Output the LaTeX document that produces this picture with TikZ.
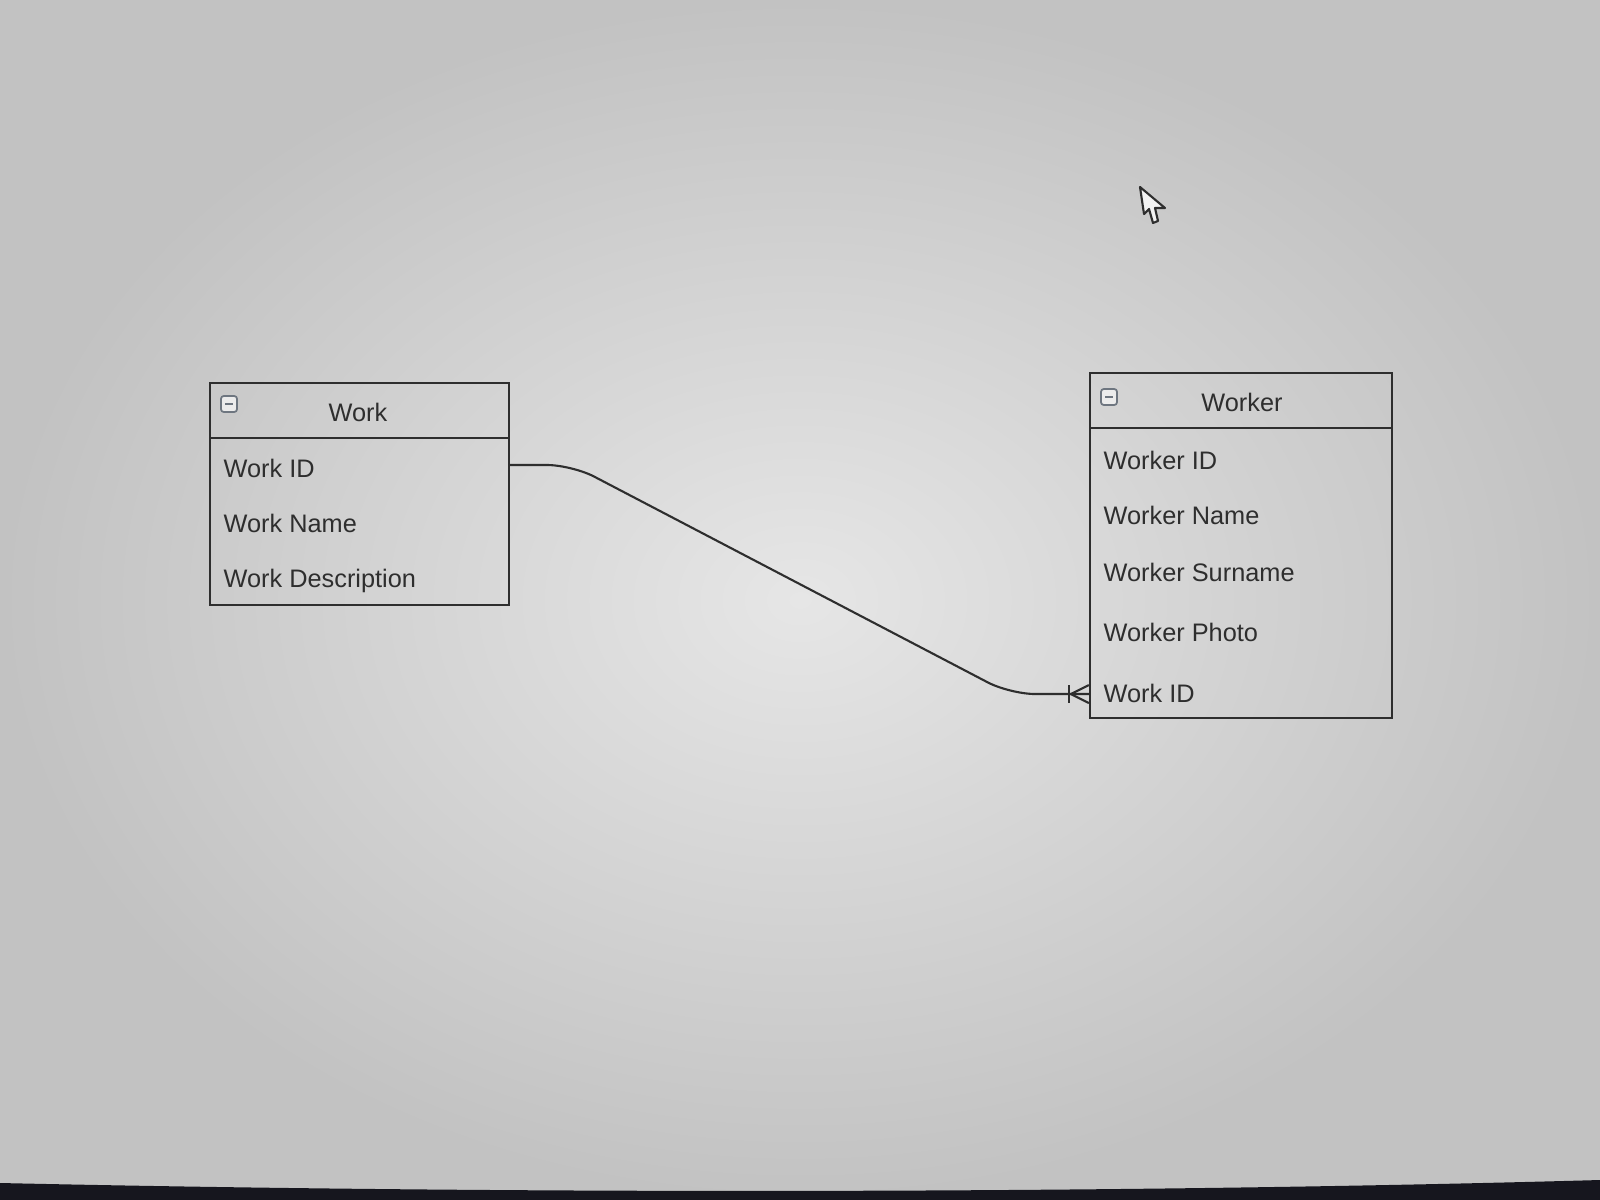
\documentclass[tikz,border=0pt]{standalone}
\usepackage{fontspec}
\setmainfont{Liberation Sans}
\usetikzlibrary{calc}
\definecolor{ink}{HTML}{2E2E2E}
\definecolor{bgin}{HTML}{E6E6E6}
\definecolor{bgout}{HTML}{C2C2C2}
\definecolor{iconc}{HTML}{6E7680}
\definecolor{screenedge}{HTML}{16161E}
\begin{document}
\begin{tikzpicture}[x=0.01cm,y=-0.01cm,
  tbox/.style={draw=ink, line width=0.6pt, minimum width=#1, inner sep=0pt},
  field/.style={anchor=west, inner sep=0pt, text=ink, text height=5.2pt, text depth=0pt, font=\fontsize{7.2}{8}\selectfont},
  ttl/.style={inner sep=0pt, text=ink, text height=5.2pt, text depth=0pt, font=\fontsize{7.2}{8}\selectfont},
  icon/.style={draw=iconc, fill=gray!15, rounded corners=0.8pt, minimum size=0.16cm, inner sep=0pt, line width=0.5pt},
  link/.style={draw=ink, line width=0.6pt}]
\useasboundingbox (0,0) rectangle (1600,1200);
% background (photo of screen)
\shade[inner color=bgin, outer color=bgout] (0,0) rectangle (1600,1200);
\fill[screenedge] (0,1183) .. controls (500,1194) and (1100,1194) .. (1600,1180) -- (1600,1200) -- (0,1200) -- cycle;

% Work table
\node[tbox=2.99cm, minimum height=0.55cm] (workhead) at (359.5,410.5) {};
\node[tbox=2.99cm, minimum height=1.67cm] (workbody) at (359.5,521.5) {};
\node[ttl] (worktitle) at (358,412) {Work};
\node[icon] (workicon) at (229,404) {};
\draw[iconc, line width=0.5pt] ($(workicon.center)+(-4,0)$) -- ($(workicon.center)+(4,0)$);
\node[field] (wid) at (223,468) {Work ID};
\node[field] (wname) at (223,523) {Work Name};
\node[field] (wdesc) at (223,578) {Work Description};

% Worker table
\node[tbox=3.02cm, minimum height=0.55cm] (wkhead) at (1241,400.5) {};
\node[tbox=3.02cm, minimum height=2.90cm] (wkbody) at (1241,573) {};
\node[ttl] (wktitle) at (1242,402) {Worker};
\node[icon] (wkicon) at (1109,397) {};
\draw[iconc, line width=0.5pt] ($(wkicon.center)+(-4,0)$) -- ($(wkicon.center)+(4,0)$);
\node[field] (kid) at (1103,460) {Worker ID};
\node[field] (kname) at (1103,515) {Worker Name};
\node[field] (ksurname) at (1103,572) {Worker Surname};
\node[field] (kphoto) at (1103,632) {Worker Photo};
\node[field] (kwid) at (1103,693) {Work ID};

% relationship
\coordinate (c1) at ($(workbody.east |- wid)+(0,-3)$);
\coordinate (c2) at ($(wkbody.west |- kwid)+(0,1)$);
\coordinate (k1) at (572,0);
\coordinate (k2) at (1010,0);
\draw[link, rounded corners=0.25cm] (c1) -- (k1 |- c1) -- (k2 |- c2) -- (c2);
\draw[link] ($(c2)+(-20,-9)$) -- ($(c2)+(-20,9)$);
\draw[link] ($(c2)+(-18,0)$) -- ($(c2)+(0,-9)$);
\draw[link] ($(c2)+(-18,0)$) -- ($(c2)+(0,9)$);

% mouse cursor
\draw[ink, fill=gray!10, line width=0.6pt, line join=round]
  (1140,187) -- (1144,214) -- (1149,209) -- (1153,223) -- (1158,221) -- (1155,208) -- (1165,208) -- cycle;
\end{tikzpicture}
\end{document}
